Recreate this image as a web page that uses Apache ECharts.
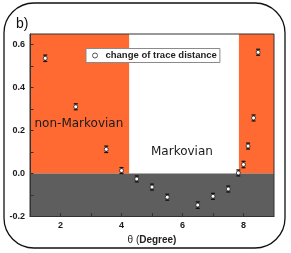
<!DOCTYPE html>
<html>
<head>
<meta charset="utf-8">
<script src="https://cdn.jsdelivr.net/npm/echarts@6/dist/echarts.min.js"></script>
<style>html,body{margin:0;padding:0;background:#fff;}#c{width:291px;height:253px;}</style>
</head>
<body>
<div id="c"></div>
<script>
// Data
var thetaValues = [1.5, 2.5, 3.5, 4.0, 4.5, 5.0, 5.5, 6.5, 7.0, 7.5, 7.83, 8.0, 8.15, 8.33, 8.48];
var traceChange = [0.537, 0.311, 0.113, 0.014, -0.025, -0.063, -0.11, -0.147, -0.106, -0.072, 0.003, 0.042, 0.128, 0.259, 0.565];
var traceError  = [0.015, 0.014, 0.015, 0.014, 0.014, 0.014, 0.014, 0.015, 0.014, 0.014, 0.014, 0.015, 0.014, 0.014, 0.014];
var nonMarkovRegions = [[1, 4.25], [7.85, 9]];
var xTickLabels = [2, 4, 6, 8];
var yTickLabels = [-0.2, 0.0, 0.2, 0.4, 0.6];
var seriesName = 'change of trace distance';

var X_MIN = 1, X_MAX = 9, Y_MIN = -0.2, Y_MAX = 0.65;

var scatterData = thetaValues.map(function (x, i) { return [x, traceChange[i]]; });
var errData = thetaValues.map(function (x, i) { return [x, traceChange[i] - traceError[i], traceChange[i] + traceError[i]]; });

var areaData = nonMarkovRegions.map(function (r) {
  return [{ xAxis: r[0], yAxis: 0, itemStyle: { color: '#FF6A33' } }, { xAxis: r[1], yAxis: Y_MAX }];
});
areaData.push([{ xAxis: X_MIN, yAxis: Y_MIN, itemStyle: { color: '#5E5E5E' } }, { xAxis: X_MAX, yAxis: 0 }]);

var chart = echarts.init(document.getElementById('c'), null, { renderer: 'canvas' });
var tickFont = { fontFamily: 'Liberation Sans', fontWeight: 'bold', fontSize: 9, color: '#1a1a1a' };

chart.setOption({
  animation: false,
  backgroundColor: '#fff',
  grid: { left: 30, top: 34, right: 17, bottom: 36.5, show: true, z: 10, backgroundColor: 'transparent', borderColor: '#333', borderWidth: 1 },
  xAxis: {
    type: 'value', min: X_MIN, max: X_MAX, interval: 1, z: 10,
    axisLine: { show: true, onZero: false, lineStyle: { color: '#333', width: 1 } },
    axisTick: { show: true, inside: true, length: 3.5, lineStyle: { color: '#333' } },
    splitLine: { show: false },
    axisLabel: Object.assign({ margin: 5, showMinLabel: false, showMaxLabel: false,
      formatter: function (v) { return xTickLabels.indexOf(Math.round(v * 1000) / 1000) >= 0 ? String(v) : ''; } }, tickFont),
    name: '{a|θ (}{b|Degree)}', nameLocation: 'middle', nameGap: 17,
    nameTextStyle: { rich: {
      a: { fontFamily: 'Liberation Sans', fontSize: 10, color: '#222' },
      b: { fontFamily: 'Liberation Sans', fontSize: 10, fontWeight: 'bold', color: '#222' } } }
  },
  yAxis: {
    type: 'value', min: Y_MIN, max: Y_MAX, interval: 0.1, z: 10,
    axisLine: { show: true, onZero: false, lineStyle: { color: '#333', width: 1 } },
    axisTick: { show: true, inside: true, length: 3.5, lineStyle: { color: '#333' } },
    splitLine: { show: false },
    axisLabel: Object.assign({ margin: 5, showMaxLabel: false,
      formatter: function (v) {
        var r = Math.round(v * 10) / 10;
        for (var i = 0; i < yTickLabels.length; i++) { if (Math.abs(yTickLabels[i] - v) < 1e-6) return r.toFixed(1); }
        return '';
      } }, tickFont)
  },
  legend: {
    data: [{ name: seriesName, icon: 'circle', itemStyle: { color: '#fff', borderColor: '#555', borderWidth: 1 } }],
    left: 86, top: 48.5, orient: 'horizontal',
    backgroundColor: '#fff', borderColor: '#8a8a8a', borderWidth: 1,
    padding: [2, 3, 2, 6], itemWidth: 5, itemHeight: 5, itemGap: 5, z: 12,
    textStyle: { fontFamily: 'Liberation Sans', fontWeight: 'bold', fontSize: 9.5, color: '#222', padding: [0, 0, 0, 3] }
  },
  graphic: [
    { type: 'rect', z: 20, shape: { x: 4, y: 3, width: 281, height: 245, r: 30 }, style: { fill: 'none', stroke: '#111', lineWidth: 1.3 } },
    { type: 'text', z: 20, x: 16, y: 24, style: { text: 'b)', fontFamily: 'Liberation Sans', fontSize: 14, fill: '#111', verticalAlign: 'middle' } },
    { type: 'text', z: 20, x: 34.5, y: 124, style: { text: 'non-Markovian', fontFamily: 'DejaVu Sans', fontSize: 12, fill: '#1a1a1a', verticalAlign: 'middle' } },
    { type: 'text', z: 20, x: 151, y: 152, style: { text: 'Markovian', fontFamily: 'DejaVu Sans', fontSize: 12, fill: '#1a1a1a', verticalAlign: 'middle' } }
  ],
  series: [
    {
      type: 'line', data: [], z: 1, silent: true,
      markArea: { silent: true, data: areaData }
    },
    {
      type: 'custom', z: 3, silent: true, data: errData,
      renderItem: function (params, api) {
        var x = api.value(0);
        var lo = api.coord([x, api.value(1)]);
        var hi = api.coord([x, api.value(2)]);
        var w = 2;
        var st = { stroke: '#111', lineWidth: 1.2 };
        return { type: 'group', children: [
          { type: 'line', shape: { x1: lo[0], y1: lo[1], x2: hi[0], y2: hi[1] }, style: st },
          { type: 'line', shape: { x1: lo[0] - w, y1: lo[1], x2: lo[0] + w, y2: lo[1] }, style: st },
          { type: 'line', shape: { x1: hi[0] - w, y1: hi[1], x2: hi[0] + w, y2: hi[1] }, style: st }
        ] };
      }
    },
    {
      name: seriesName, type: 'scatter', z: 4, data: scatterData,
      symbol: 'circle', symbolSize: 4,
      itemStyle: { color: '#fff', borderColor: '#222', borderWidth: 0.8, opacity: 1 }
    }
  ]
});
</script>
</body>
</html>
